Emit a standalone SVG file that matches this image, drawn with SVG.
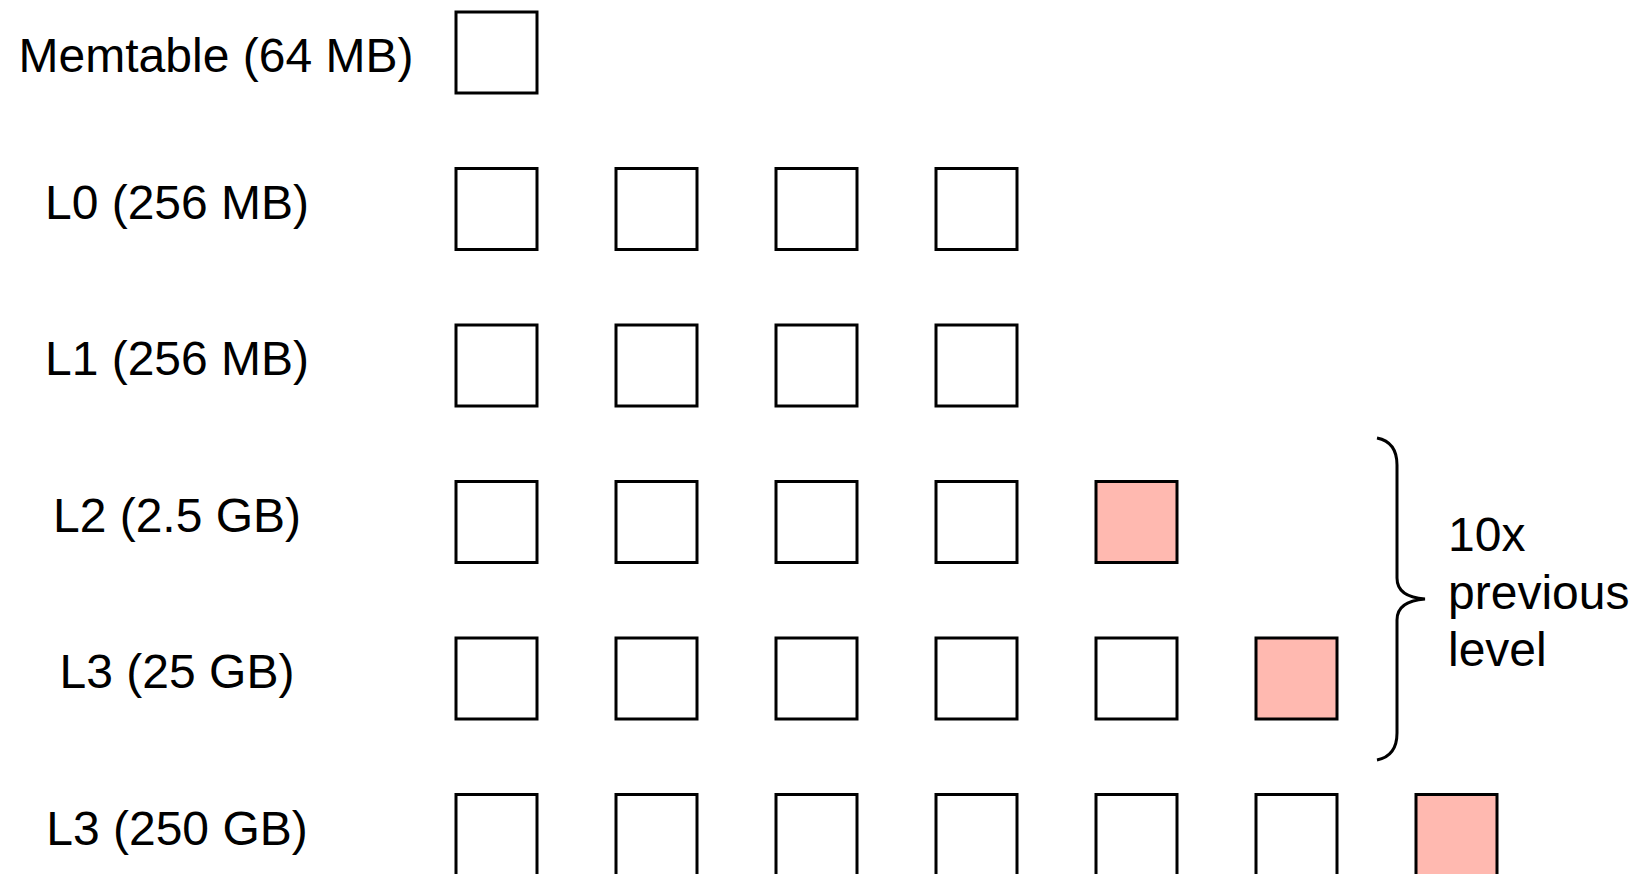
<svg xmlns="http://www.w3.org/2000/svg" width="1642" height="874" viewBox="0 0 1642 874">
<style>
.b{fill:#fff;stroke:#000;stroke-width:3}
.p{fill:#ffb9b0;stroke:#000;stroke-width:3}
text{font-family:"Liberation Sans",Arial,sans-serif;font-size:48px;fill:#000}
.l{text-anchor:middle}
</style>
<rect width="1642" height="874" fill="#fff"/>
<g id="memtable">
<text x="216" y="72" class="l">Memtable (64 MB)</text>
<rect class="b" x="456" y="12" width="81" height="81"/>
</g>
<g id="L0">
<text x="177" y="219" class="l">L0 (256 MB)</text>
<rect class="b" x="456" y="168.5" width="81" height="81"/>
<rect class="b" x="616" y="168.5" width="81" height="81"/>
<rect class="b" x="776" y="168.5" width="81" height="81"/>
<rect class="b" x="936" y="168.5" width="81" height="81"/>
</g>
<g id="L1">
<text x="177" y="375" class="l">L1 (256 MB)</text>
<rect class="b" x="456" y="325" width="81" height="81"/>
<rect class="b" x="616" y="325" width="81" height="81"/>
<rect class="b" x="776" y="325" width="81" height="81"/>
<rect class="b" x="936" y="325" width="81" height="81"/>
</g>
<g id="L2">
<text x="177" y="532" class="l">L2 (2.5 GB)</text>
<rect class="b" x="456" y="481.5" width="81" height="81"/>
<rect class="b" x="616" y="481.5" width="81" height="81"/>
<rect class="b" x="776" y="481.5" width="81" height="81"/>
<rect class="b" x="936" y="481.5" width="81" height="81"/>
<rect class="p" x="1096" y="481.5" width="81" height="81"/>
</g>
<g id="L3">
<text x="177" y="688" class="l">L3 (25 GB)</text>
<rect class="b" x="456" y="638" width="81" height="81"/>
<rect class="b" x="616" y="638" width="81" height="81"/>
<rect class="b" x="776" y="638" width="81" height="81"/>
<rect class="b" x="936" y="638" width="81" height="81"/>
<rect class="b" x="1096" y="638" width="81" height="81"/>
<rect class="p" x="1256" y="638" width="81" height="81"/>
</g>
<g id="L3b">
<text x="177" y="845" class="l">L3 (250 GB)</text>
<rect class="b" x="456" y="794.5" width="81" height="81"/>
<rect class="b" x="616" y="794.5" width="81" height="81"/>
<rect class="b" x="776" y="794.5" width="81" height="81"/>
<rect class="b" x="936" y="794.5" width="81" height="81"/>
<rect class="b" x="1096" y="794.5" width="81" height="81"/>
<rect class="b" x="1256" y="794.5" width="81" height="81"/>
<rect class="p" x="1416" y="794.5" width="81" height="81"/>
</g>
<g id="brace">
<path d="M1377,438 Q1397,442 1397,465 L1397,578 Q1397,597 1425,599 Q1397,601 1397,620 L1397,733 Q1397,756 1377,760" fill="none" stroke="#000" stroke-width="3"/>
<text x="1448" y="551">10x</text>
<text x="1448" y="609">previous</text>
<text x="1448" y="666">level</text>
</g>
</svg>
